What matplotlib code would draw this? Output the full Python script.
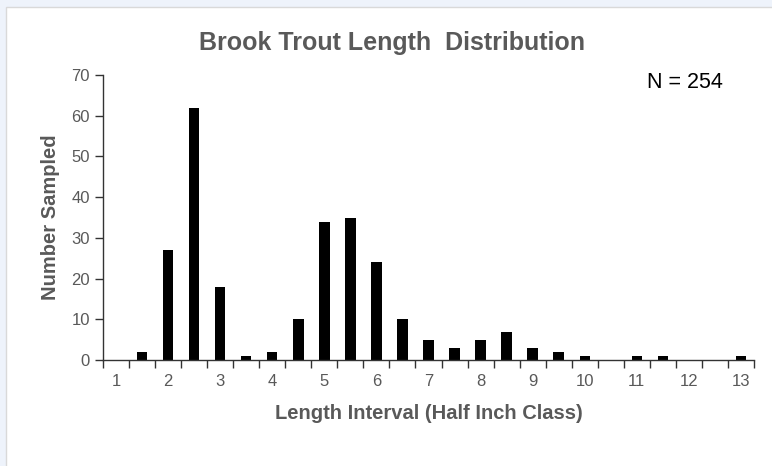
import matplotlib.pyplot as plt
from matplotlib.patches import Rectangle

classes = [1, 1.5, 2, 2.5, 3, 3.5, 4, 4.5, 5, 5.5, 6, 6.5, 7, 7.5, 8, 8.5,
           9, 9.5, 10, 10.5, 11, 11.5, 12, 12.5, 13]
counts = [0, 2, 27, 62, 18, 1, 2, 10, 34, 35, 24, 10, 5, 3, 5, 7,
          3, 2, 1, 0, 1, 1, 0, 0, 1]
y_ticks = [0, 10, 20, 30, 40, 50, 60, 70]

font = ['Liberation Sans', 'DejaVu Sans']
gray = '#595959'

fig = plt.figure(figsize=(7.72, 4.66), dpi=100)
fig.patch.set_facecolor('#eef3fb')
fig.patches.append(Rectangle((6 / 772, -0.01), 1, 1 - 7 / 466 + 0.01, transform=fig.transFigure,
                             facecolor='white', edgecolor='#d9d9d9', lw=1, zorder=-5))

ax = fig.add_axes([103 / 772, 106 / 466, 651 / 772, 285 / 466])
ax.set_facecolor('none')
ax.set_zorder(2)

pos = list(range(len(classes)))
ax.bar(pos, counts, width=0.4, color='black')

ax.set_xlim(-0.5, len(classes) - 0.5)
ax.set_ylim(0, 70)
ax.set_yticks(y_ticks)
ax.set_yticklabels([str(v) for v in y_ticks], family=font, fontsize=12, color=gray)

# ticks at category boundaries, labels on whole inches only
ax.set_xticks([p - 0.5 for p in pos] + [len(classes) - 0.5])
ax.set_xticklabels([])
for p, c in zip(pos, classes):
    if c == int(c):
        ax.text(p, -0.05, str(int(c)), transform=ax.get_xaxis_transform(),
                ha='center', va='top', family=font, fontsize=12, color=gray)

for s in ['top', 'right']:
    ax.spines[s].set_visible(False)
for s in ['left', 'bottom']:
    ax.spines[s].set_color('#333333')
    ax.spines[s].set_linewidth(1)
ax.tick_params(axis='both', direction='out', length=6, color='#333333', width=1)

ax.set_ylabel('Number Sampled', family=font, fontsize=14.5, fontweight='bold',
              color=gray, labelpad=8)
ax.set_xlabel('Length Interval (Half Inch Class)', family=font, fontsize=14.5,
              fontweight='bold', color=gray, labelpad=22)

fig.text(392 / 772, 1 - 43 / 466, 'Brook Trout Length  Distribution', family=font,
         fontsize=18, fontweight='bold', color=gray, ha='center', va='center')
ax.text(620 / 651, 0.975, 'N = 254', transform=ax.transAxes, ha='right', va='center',
        fontsize=15.5, family=font, color='black')

fig.savefig('out.png', dpi=100, facecolor=fig.get_facecolor())
